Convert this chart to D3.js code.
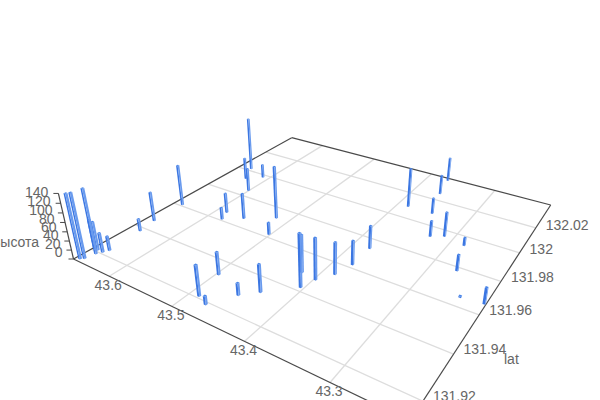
<!DOCTYPE html><html><head><meta charset="utf-8"><script src="https://cdn.jsdelivr.net/npm/d3@7"></script>
<style>html,body{margin:0;background:#fff}svg{display:block}text{font-family:"Liberation Sans",Arial,sans-serif;font-size:14px;fill:#666}</style></head><body>
<svg id="s" width="600" height="400"></svg>
<script>
const lon=[43.658,43.654,43.651,43.662,43.656,43.647,43.643,43.647,43.651,43.651,43.644,43.629,43.601,43.610,43.519,43.585,43.578,43.555,43.502,43.488,43.497,43.472,43.453,43.436,43.404,43.419,43.398,43.385,43.378,43.378,43.385,43.363,43.370,43.349,43.327,43.312,43.283,43.270,43.248,43.222];
const lat=[131.914,131.915,131.919,131.921,131.921,131.921,131.923,131.938,131.946,131.961,132.002,131.993,131.985,131.998,131.973,131.966,131.961,131.966,131.962,131.921,131.933,131.919,131.928,131.933,131.942,131.949,131.948,131.954,131.962,131.974,132.009,132.026,132.039,132.009,131.993,131.996,131.994,131.978,131.965,131.966];
const alt=[140,141,141,65,63,43,32,28,67,95,130,53,55,33,120,46,28,59,28,65,49,18,26,59,112,81,89,69,53,51,91,46,58,37,36,55,18,35,3,34];
const lonTicks=[43.6,43.5,43.4,43.3];
const latTicks=[131.92,131.94,131.96,131.98,132,132.02];
const altTicks=[0,20,40,60,80,100,120,140];

const frame=[[73.5,259],[410,421],[550.7,205],[291.7,137.7]];
const [[x0,y0],[x1,y1],[x2,y2],[x3,y3]]=frame;
const dx1=x1-x2,dx2=x3-x2,sx=x0-x1+x2-x3,dy1=y1-y2,dy2=y3-y2,sy=y0-y1+y2-y3,den=dx1*dy2-dx2*dy1;
const g=(sx*dy2-dx2*sy)/den,h=(dx1*sy-sx*dy1)/den;
const a=x1-x0+g*x1,b=x3-x0+h*x3,c=x0,d=y1-y0+g*y1,e=y3-y0+h*y3,f=y0;
const Vx=325,Vy=1350;
const uS=d3.scaleLinear([43.664,43.22],[0,1]);
const vS=d3.scaleLinear([131.9126,132.041],[0,1]);
const zS=d3.scaleLinear([0,140],[0,-0.0567]);
function proj(u,v,z=0){const k=zS(z),W=g*u+h*v+1+k;return [(a*u+b*v+c+k*Vx)/W,(d*u+e*v+f+k*Vy)/W];}
const svg=d3.select('#s');
const line=(p,q,col,w=1)=>svg.append('line').attr('x1',p[0]).attr('y1',p[1]).attr('x2',q[0]).attr('y2',q[1]).attr('stroke',col).attr('stroke-width',w);
const label=(p,t,anchor)=>svg.append('text').attr('x',p[0]).attr('y',p[1]).attr('text-anchor',anchor).attr('dominant-baseline','middle').text(t);

lonTicks.forEach(t=>line(proj(uS(t),0),proj(uS(t),1),'#dddddd',1.3));
latTicks.forEach(t=>line(proj(0,vS(t)),proj(1,vS(t)),'#dddddd',1.3));
const ax='#4a4a4a';
line(proj(0,0),proj(1,0),ax,1.2);line(proj(1,0),proj(1,1),ax,1.2);line(proj(1,1),proj(0,1),ax,1.2);line(proj(0,1),proj(0,0),ax,1.2);
line(proj(0,0),proj(0,0,140),ax,1.2);
altTicks.forEach(t=>{const p=proj(0,0,t);line(p,[p[0]-5,p[1]],ax);label([p[0]-11+1*t/140,p[1]-6+6*t/140],t,'end');});
lonTicks.forEach(t=>{const p=proj(uS(t),0);label([p[0]-1,p[1]+10],t,'middle');});
latTicks.forEach(t=>{const p=proj(1,vS(t));label([p[0]+10,p[1]-2-(132.02-t)*20],t,'start');});
label([16,243],'высота','middle');
label([504,360],'lat','start');

const hw=0.0034;
const poly=q=>q.map(p=>p.join(',')).join(' ');
const order=d3.range(lon.length).sort((i,j)=>(uS(lon[i])-vS(lat[i]))-(uS(lon[j])-vS(lat[j])));
order.forEach(i=>{
  const u=uS(lon[i]),v=vS(lat[i]),z=alt[i];
  svg.append('polygon').attr('points',poly([proj(u-hw,v-hw,0),proj(u+hw,v-hw,0),proj(u+hw,v-hw,z),proj(u-hw,v-hw,z)])).attr('fill','#3b76e2');
  svg.append('polygon').attr('points',poly([proj(u+hw,v-hw,0),proj(u+hw,v+hw,0),proj(u+hw,v+hw,z),proj(u+hw,v-hw,z)])).attr('fill','#6a9bee');
  svg.append('polygon').attr('points',poly([proj(u-hw,v-hw,z),proj(u+hw,v-hw,z),proj(u+hw,v+hw,z),proj(u-hw,v+hw,z)])).attr('fill','#4a86e8');
});
</script></body></html>
